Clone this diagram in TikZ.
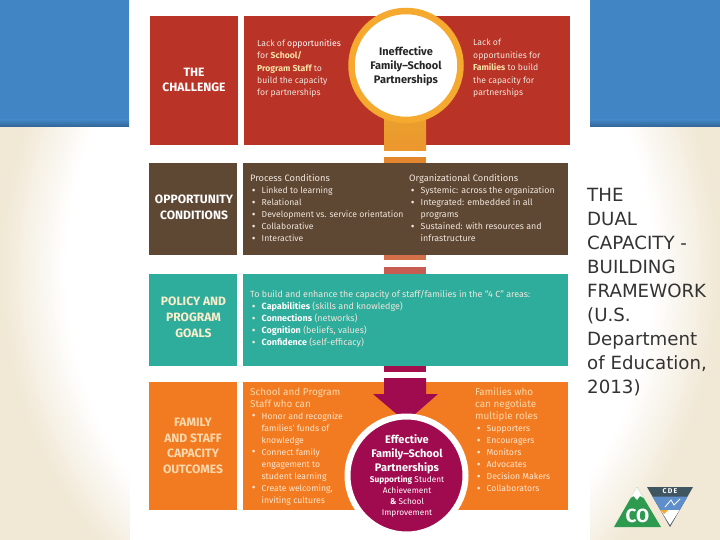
\documentclass[tikz,border=0pt]{standalone}
\usepackage{fontspec}
\setmainfont{Fira Sans}
\newfontfamily\sidefont{DejaVu Sans}
\definecolor{bgblue}{HTML}{4285C4}
\definecolor{bgcream}{HTML}{F1E9D6}
\definecolor{cred}{HTML}{B93327}
\definecolor{cbrown}{HTML}{5E4733}
\definecolor{cteal}{HTML}{2FAD9C}
\definecolor{corange}{HTML}{F27B21}
\definecolor{cmag}{HTML}{A00B50}
\definecolor{cgold}{HTML}{F5A92F}
\definecolor{chigh}{HTML}{FBE3A8}
\definecolor{cpale}{HTML}{FBD9AE}
\definecolor{cpaler}{HTML}{FCE8D2}
\definecolor{ctxt}{HTML}{F0E6DC}
\definecolor{logogreen}{HTML}{2E9A50}
\definecolor{logoslate}{HTML}{3F5560}
\definecolor{logoblue}{HTML}{5F8FCB}
\newcommand{\bl}[1]{\makebox[11.5pt][l]{\hspace{1.6pt}{\fontsize{11.5}{12}\selectfont\raisebox{-0.6pt}{•}}}#1}
\newcommand{\cl}[1]{\hspace*{11.5pt}#1}
\newcommand{\hl}[1]{{\color{chigh}\bfseries #1}}
\newcommand{\wb}[1]{{\color{white}\bfseries #1}}
\newcommand{\hd}[1]{{\fontsize{9.3}{12}\selectfont #1}}
\newcommand{\hdo}[1]{{\fontsize{9.9}{12}\selectfont\color{cpale} #1}}
\tikzset{
  head/.style={inner sep=0pt,align=center,text=white,font=\fontsize{12.1}{15.8}\selectfont\bfseries},
  body/.style={inner sep=0pt,anchor=north west,align=left,text=ctxt,font=\fontsize{8.65}{12}\selectfont},
  orangebody/.style={body,text=cpaler},
}
\begin{document}
\begin{tikzpicture}[x=1pt,y=-1pt]
\useasboundingbox (0,0) rectangle (720,540);
% background
\begin{scope}
\clip (0,0) rectangle (720,540);
\fill[bgcream] (0,0) rectangle (720,540);
\foreach \k in {0,...,20}{
  \pgfmathsetmacro{\rr}{1.0-0.18*\k/20}
  \pgfmathsetmacro{\pp}{100-5*\k}
  \fill[bgcream!\pp!white] (360,270) ellipse [x radius=360*\rr, y radius=400*\rr];
}
\end{scope}
\fill[bgblue] (0,0) rectangle (129,127);
\fill[bgblue] (590,0) rectangle (720,127);
\shade[top color=bgblue,bottom color=bgblue!75!black] (0,120) rectangle (129,127);
\shade[top color=bgblue,bottom color=bgblue!75!black] (590,120) rectangle (720,127);
\fill[white] (130,0) rectangle (590,540);
% bands
\fill[cred] (150,16) rectangle (237.5,145);
\fill[cred] (244,16) rectangle (570,145);
\fill[cbrown] (149,163) rectangle (237,255);
\fill[cbrown] (242.5,163) rectangle (568,255);
\fill[cteal] (149,274) rectangle (237,366);
\fill[cteal] (242.5,274) rectangle (568,366);
\fill[corange] (149,382) rectangle (237,510);
\fill[corange] (242.5,382) rectangle (568,510);
% central stem
\shade[top color=cgold!95!black,bottom color=cgold!85!cred] (384,110) rectangle (426,151);
\fill[cgold!70!cred] (384,157) rectangle (426,163);
\fill[cred!70!cgold!85!white] (384,255) rectangle (426,259.5);
\fill[cred!80!white] (384,267) rectangle (426,274);
\fill[cmag!90!cred] (384,366) rectangle (426,372);
\fill[cmag] (384,378) -- (426,378) -- (426,394) -- (438,394) -- (406,422) -- (373,394) -- (384,394) -- cycle;
% circles
\node[circle,fill=white,draw=cgold,line width=6.5pt,minimum size=109pt,inner sep=0pt] (top) at (406,65.5) {};
\node[circle,fill=cmag,draw=white,line width=6pt,minimum size=118pt,inner sep=0pt] (bot) at (406.5,475.5) {};
% heads
\node[head] (hchal) at (194,80) {THE\\CHALLENGE};
\node[head] (hopp) at (194,207) {OPPORTUNITY\\CONDITIONS};
\node[head,text=chigh!60!white] (hpol) at (193.5,317.5) {POLICY AND\\PROGRAM\\GOALS};
\node[head,text=cpale] (hfam) at (193,446) {FAMILY\\AND STAFF\\CAPACITY\\OUTCOMES};
% red band
\node[body,font=\fontsize{8.65}{12.4}\selectfont] (t1) at (257,39.3) {Lack of \textcolor{white}{opportunities}\\for \hl{School/}\\\hl{Program Staff} to\\build the capacity\\for partnerships};
\node[body,font=\fontsize{8.65}{12.4}\selectfont] (t2) at (473,39.3) {Lack of\\opportunities for\\\hl{Families} to build\\the capacity for\\partnerships};
\node[inner sep=0pt,align=center,text=black!85,font=\fontsize{11}{14}\selectfont\bfseries] (t3) at (406,66) {Ineffective\\Family--School\\Partnerships};
% brown band
\node[body] (t4) at (250,174.5) {\hd{Process Conditions}\\\bl{Linked to learning}\\\bl{Relational}\\\bl{Development vs. service orientation}\\\bl{Collaborative}\\\bl{Interactive}};
\node[body,font=\fontsize{8.85}{12}\selectfont] (t5) at (409,174.5) {\hd{Organizational Conditions}\\\bl{Systemic: across the organization}\\\bl{Integrated: embedded in all}\\\cl{programs}\\\bl{Sustained: with resources and}\\\cl{infrastructure}};
% teal band
\node[body,font=\fontsize{8.95}{12}\selectfont] (t6) at (250,290) {To build and enhance the capacity of staff/families in the ``4 C'' areas:\\\bl{\wb{Capabilities} (skills and knowledge)}\\\bl{\wb{Connections} (networks)}\\\bl{\wb{Cognition} (beliefs, values)}\\\bl{\wb{Confidence} (self-efficacy)}};
% orange band
\node[orangebody] (t7) at (250,387.5) {\hdo{School and Program}\\\hdo{Staff who can}\\\bl{Honor and recognize}\\\cl{families' funds of}\\\cl{knowledge}\\\bl{Connect family}\\\cl{engagement to}\\\cl{student learning}\\\bl{Create welcoming,}\\\cl{inviting cultures}};
\node[orangebody] (t8) at (475,387.5) {\hdo{Families who}\\\hdo{can negotiate}\\\hdo{multiple roles}\\\bl{Supporters}\\\bl{Encouragers}\\\bl{Monitors}\\\bl{Advocates}\\\bl{Decision Makers}\\\bl{Collaborators}};
\node[inner sep=0pt,align=center,text=white,font=\fontsize{11}{14}\selectfont\bfseries] (t9) at (407,454) {Effective\\Family--School\\Partnerships};
\node[inner sep=0pt,align=center,text=white,font=\fontsize{8.3}{11}\selectfont] (t10) at (407,496.2) {\textbf{Supporting} Student\\Achievement\\\textbf{\&} School\\Improvement};
% side text
\node[inner sep=0pt,anchor=north west,align=left,text=black!80,font=\sidefont\fontsize{18.2}{24}\selectfont] (side) at (587,188.3) {THE\\DUAL\\CAPACITY -\\BUILDING\\FRAMEWORK\\(U.S.\\Department\\of Education,\\2013)};
% logo
\fill[logogreen] (637,487) -- (661,527) -- (614,527) -- cycle;
\fill[white] (637,487) -- (643.5,498) -- (640,496) -- (637,500) -- (633.5,496) -- (630.5,498) -- cycle;
\node[inner sep=0pt,text=white,font=\fontsize{19}{19}\selectfont\bfseries] (co) at (637.5,516) {CO};
\fill[logoslate] (647,487) -- (693,487) -- (670,527) -- cycle;
\fill[logoblue] (652.5,496.5) -- (687.5,496.5) -- (679.5,510) -- (660.5,510) -- cycle;
\fill[white] (660.5,510) -- (679.5,510) -- (670,525) -- cycle;
\fill[cgold] (660.5,510) -- (668,510) -- (664,514) -- cycle;
\draw[white,line width=0.8pt] (665,507) -- (671,500) -- (674,505) -- (680,499);
\node[inner sep=0pt,text=white,font=\fontsize{7}{7}\selectfont\bfseries] (cde) at (670,491.5) {C\,D\,E};
\end{tikzpicture}
\end{document}
